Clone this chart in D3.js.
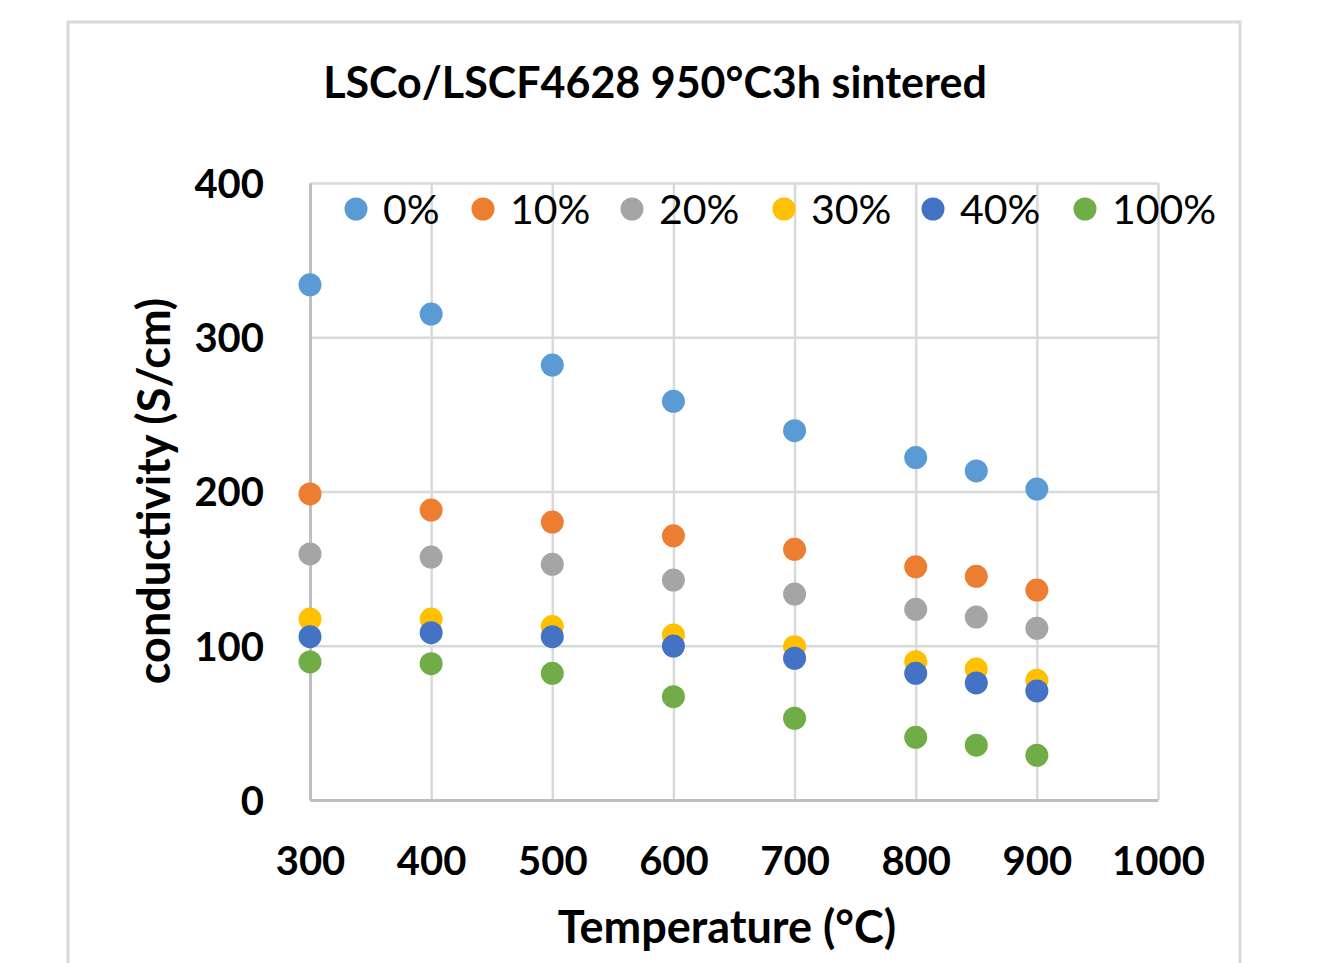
<!DOCTYPE html>
<html>
<head>
<meta charset="utf-8">
<script src="https://cdn.jsdelivr.net/npm/d3@7"></script>
<style>
  body { margin: 0; background: #fff; }
  svg text { font-family: Lato, "Open Sans", sans-serif; font-weight: bold; fill: #000; }
</style>
</head>
<body>
<div id="graphic"></div>
<script>
// temperatures (°C)
var temps = [300, 400, 500, 600, 700, 800, 850, 900];
// series labels, as in the legend
var seriesNames = ["0%", "10%", "20%", "30%", "40%", "100%"];
// conductivity (S/cm) per series
var s0 = [334, 315, 282, 258.5, 239.4, 222, 213.3, 201.6];
var s10 = [198.4, 188, 180.2, 171.3, 162.5, 151.2, 145, 136.1];
var s20 = [159.5, 157.5, 152.8, 142.6, 133.5, 123.6, 118.6, 111.3];
var s30 = [117.3, 117.3, 112.4, 107, 99.4, 89.7, 84.9, 77.6];
var s40 = [105.9, 108.5, 105.9, 99.8, 91.9, 82.1, 75.9, 70.7];
var s100 = [89.5, 88.4, 82.1, 67, 53, 40.6, 35.5, 29];
var xTicks = [300, 400, 500, 600, 700, 800, 900, 1000];
var yTicks = [0, 100, 200, 300, 400];
var palette = ["#5B9BD5", "#ED7D31", "#A5A5A5", "#FFC000", "#4472C4", "#70AD47"];

var seriesValues = [s0, s10, s20, s30, s40, s100];

var width = 1327, height = 963;
var margin = {top: 183, right: 169, bottom: 163, left: 310};
var chart_width = width - margin.left - margin.right;
var chart_height = height - margin.top - margin.bottom;

var svg = d3.select('#graphic').append('svg')
  .attr('width', width)
  .attr('height', height);

// outer chart border
svg.append('rect')
  .attr('x', 68).attr('y', 22)
  .attr('width', 1172).attr('height', 960)
  .attr('fill', 'none')
  .attr('stroke', '#d9d9d9')
  .attr('stroke-width', 3);

var x = d3.scaleLinear().domain([300, 1000]).range([0, chart_width]);
var y = d3.scaleLinear().domain([0, 400]).range([chart_height, 0]);
var colour = d3.scaleOrdinal().domain(seriesNames).range(palette);

var chart = svg.append('g')
  .attr('transform', 'translate(' + margin.left + ',' + margin.top + ')');

// gridlines
var yGrid = chart.append('g')
  .call(d3.axisLeft(y).tickValues(yTicks).tickSize(-chart_width).tickFormat(''));
yGrid.select('.domain').remove();
yGrid.selectAll('line').attr('stroke', '#d9d9d9').attr('stroke-width', 2.5);

var xGrid = chart.append('g')
  .call(d3.axisBottom(x).tickValues(xTicks).tickSize(chart_height).tickFormat(''));
xGrid.select('.domain').remove();
xGrid.selectAll('line').attr('stroke', '#d9d9d9').attr('stroke-width', 2.5);

// axes
var yAxis = chart.append('g')
  .call(d3.axisLeft(y).tickValues(yTicks).tickSize(0).tickPadding(46));
yAxis.select('.domain').attr('stroke', '#bfbfbf').attr('stroke-width', 3);
yAxis.selectAll('text').style('font-size', '40px').attr('dy', '0.36em');

var xAxis = chart.append('g')
  .attr('transform', 'translate(0,' + chart_height + ')')
  .call(d3.axisBottom(x).tickValues(xTicks).tickSize(0).tickPadding(47).tickFormat(d3.format('d')));
xAxis.select('.domain').attr('stroke', '#bfbfbf').attr('stroke-width', 3);
xAxis.selectAll('text').style('font-size', '40px');

// points
seriesNames.forEach(function(name, i) {
  chart.selectAll('circle.s' + i)
    .data(temps.map(function(t, j) { return {t: t, v: seriesValues[i][j]}; }))
    .join('circle')
    .attr('class', 's' + i)
    .attr('cx', function(d) { return x(d.t); })
    .attr('cy', function(d) { return y(d.v); })
    .attr('r', 11.5)
    .attr('fill', colour(name));
});

// legend
var legendX = [356, 483, 632, 784, 933, 1085];
var legend = svg.append('g').selectAll('g')
  .data(seriesNames)
  .join('g')
  .attr('transform', function(d, i) { return 'translate(' + legendX[i] + ',209)'; });
legend.append('circle').attr('r', 11.5).attr('fill', function(d) { return colour(d); });
legend.append('text')
  .attr('x', 27).attr('dy', '0.36em')
  .style('font-size', '41px')
  .style('font-weight', 'normal')
  .text(function(d) { return d; });

// title
svg.append('text')
  .attr('x', 655).attr('y', 98)
  .attr('text-anchor', 'middle')
  .style('font-size', '43px')
  .text('LSCo/LSCF4628 950°C3h sintered');

// axis titles
svg.append('text')
  .attr('x', 727).attr('y', 943)
  .attr('text-anchor', 'middle')
  .style('font-size', '45px')
  .text('Temperature (°C)');

svg.append('text')
  .attr('transform', 'translate(170,491) rotate(-90)')
  .attr('text-anchor', 'middle')
  .style('font-size', '45px')
  .text('conductivity (S/cm)');
</script>
</body>
</html>
